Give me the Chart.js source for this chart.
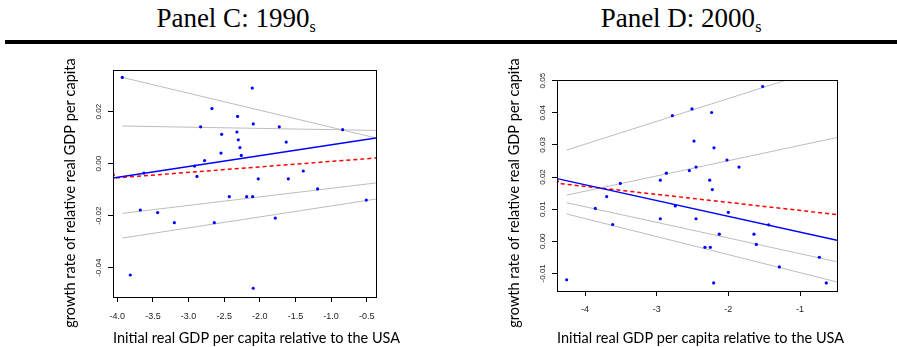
<!DOCTYPE html>
<html><head><meta charset="utf-8">
<script src="https://cdn.jsdelivr.net/npm/chart.js@4/dist/chart.umd.min.js"></script>
<style>
html,body{margin:0;padding:0;background:#fff;width:897px;height:347px;overflow:hidden;}
#wrap{position:relative;width:897px;height:347px;}
.ptitle{position:absolute;top:3px;font-family:"Liberation Serif","Times New Roman",serif;font-size:27px;line-height:30px;color:#000;white-space:nowrap;transform:translateX(-50%);}
.ptitle sub{font-size:16px;vertical-align:-5px;line-height:0;}
#rule{position:absolute;left:5px;top:40px;width:892px;height:4px;background:#000;}
canvas{position:absolute;top:0;}
</style></head>
<body><div id="wrap">
<div class="ptitle" style="left:236px">Panel C: 1990<sub>s</sub></div>
<div class="ptitle" style="left:681px">Panel D: 2000<sub>s</sub></div>
<div id="rule"></div>
<canvas id="cC" width="448" height="347" style="left:0"></canvas>
<canvas id="cD" width="449" height="347" style="left:448px"></canvas>
</div>
<script>
// ---------- shared text ----------
const xAxisTitle = 'Initial real GDP per capita relative to the USA';
const yAxisTitle = 'growth rate of relative real GDP per capita';

// ---------- Panel C: 1990s ----------
const c_pointX = [-3.93,-2.106,-2.672,-2.312,-2.092,-2.831,-1.727,-0.838,-2.321,-2.536,-2.302,-1.629,-2.279,-2.545,-2.26,-2.775,-2.915,-3.626,-2.882,-2.022,-1.6,-1.39,-1.189,-2.428,-2.185,-2.101,-3.677,-3.434,-3.2,-2.639,-1.783,-0.506,-3.818,-2.092];
const c_pointY = [0.0332,0.0291,0.0212,0.0182,0.0153,0.0142,0.0142,0.0131,0.0122,0.0113,0.0092,0.0083,0.0062,0.0041,0.0032,0.0012,-0.0009,-0.0036,-0.0049,-0.0058,-0.0058,-0.0028,-0.0097,-0.0127,-0.0127,-0.0127,-0.0178,-0.0188,-0.0227,-0.0227,-0.0209,-0.014,-0.0428,-0.0479];
const c_grayX = [-3.93, -0.37];
const c_gray1Y = [0.0332, 0.0099];
const c_gray2Y = [0.0145, 0.0128];
const c_gray3Y = [-0.0191, -0.0074];
const c_gray4Y = [-0.0286, -0.0136];
const c_blueX = [-4.06, -0.37];
const c_blueY = [-0.0055, 0.0099];
const c_redX = [-4.06, -4.03, -0.37];
const c_redY = [-0.0033, -0.0055, 0.0022];
const c_xTicks = [-4.0,-3.5,-3.0,-2.5,-2.0,-1.5,-1.0,-0.5];
const c_xTickLabels = ['-4.0','-3.5','-3.0','-2.5','-2.0','-1.5','-1.0','-0.5'];
const c_yTicks = [-0.04,-0.02,0.00,0.02];
const c_yTickLabels = ['-0.04','-0.02','0.00','0.02'];
const c_xRange = [-4.0603, -0.3695];
const c_yRange = [-0.05127, 0.03604];

// ---------- Panel D: 2000s ----------
const d_pointX = [-1.521,-2.507,-2.233,-2.781,-2.479,-2.2,-2.019,-1.851,-2.451,-2.544,-2.865,-2.949,-2.26,-3.507,-2.223,-3.698,-2.74,-3.856,-2.949,-2.451,-2.0,-3.614,-1.437,-2.126,-1.642,-2.326,-2.251,-1.609,-0.73,-1.288,-4.256,-2.205,-0.633];
const d_pointY = [0.0482,0.0412,0.0401,0.0391,0.0312,0.0291,0.0253,0.0231,0.0231,0.022,0.0212,0.019,0.019,0.018,0.0161,0.0139,0.011,0.0102,0.007,0.007,0.009,0.0052,0.0051,0.0022,0.0022,-0.0019,-0.0019,-0.001,-0.005,-0.008,-0.012,-0.013,-0.013];
const d_gray1X = [-4.256, -1.19];
const d_gray1Y = [0.0284, 0.0502];
const d_grayX = [-4.256, -0.484];
const d_gray2Y = [0.01435, 0.0323];
const d_gray3Y = [0.012, -0.0064];
const d_gray4Y = [0.0085, -0.0127];
const d_blueX = [-4.39, -0.484];
const d_blueY = [0.0195, 0.0003];
const d_redX = [-4.39, -4.364, -0.484];
const d_redY = [0.0195, 0.018, 0.0083];
const d_xTicks = [-4,-3,-2,-1];
const d_xTickLabels = ['-4','-3','-2','-1'];
const d_yTicks = [-0.01,0.00,0.01,0.02,0.03,0.04,0.05];
const d_yTickLabels = ['-0.01','0.00','0.01','0.02','0.03','0.04','0.05'];
const d_xRange = [-4.3907, -0.4838];
const d_yRange = [-0.01551, 0.05022];

// ---------- helpers ----------
const zip = (xs, ys) => xs.map((x, i) => ({x: x, y: ys[i]}));

const boxPlugin = {
  id: 'plotBox',
  afterDraw(chart) {
    const a = chart.chartArea, ctx = chart.ctx;
    ctx.save();
    ctx.strokeStyle = '#000';
    ctx.lineWidth = 1;
    ctx.strokeRect(Math.round(a.left) + 0.5, Math.round(a.top) + 0.5,
                   Math.round(a.right) - Math.round(a.left), Math.round(a.bottom) - Math.round(a.top));
    ctx.restore();
  }
};
// axis titles (drawn without Chart.js's maxWidth squeeze)
const axisTitlePlugin = {
  id: 'axisTitles',
  afterDraw(chart, args, o) {
    const ctx = chart.ctx, a = chart.chartArea;
    ctx.save();
    ctx.font = o.size + 'px ' + o.family;
    ctx.fillStyle = '#000';
    ctx.textBaseline = 'middle';
    // x title: left-aligned with the plot box
    ctx.textAlign = 'left';
    ctx.fillText(o.xText, a.left, o.xTitleY);
    // y title: rotated
    ctx.translate(o.yTitleX, o.yTitleY);
    ctx.rotate(-Math.PI / 2);
    ctx.textAlign = 'center';
    ctx.fillText(o.yText, 0, 0);
    ctx.restore();
  }
};

function lineDs(xs, ys, color, width, dash) {
  return {type: 'scatter', data: zip(xs, ys), showLine: true, pointRadius: 0,
          borderColor: color, borderWidth: width, borderDash: dash || [], fill: false};
}

function makeChart(id, p) {
  return new Chart(document.getElementById(id), {
    type: 'scatter',
    data: {
      datasets: [
        {data: zip(p.px, p.py), pointRadius: 1.6, pointBackgroundColor: '#0000ff',
         pointBorderWidth: 0, borderColor: '#0000ff'},
        lineDs(p.blueX, p.blueY, '#0000ff', 1.5),
        lineDs(p.redX, p.redY, '#ff0000', 1.5, [4, 3]),
        ...p.grays.map(g => lineDs(g[0], g[1], '#bdbdbd', 1))
      ]
    },
    options: {
      responsive: false, animation: false, devicePixelRatio: 1, events: [],
      layout: {padding: p.pad},
      plugins: {
        legend: {display: false}, tooltip: {enabled: false},
        axisTitles: {xText: xAxisTitle, yText: yAxisTitle, xTitleY: 338,
                     yTitleX: p.yTitlePos[0], yTitleY: p.yTitlePos[1], size: 14.5, family: 'Lato'}
      },
      scales: {
        x: {
          type: 'linear', min: p.xRange[0], max: p.xRange[1],
          afterBuildTicks: s => { s.ticks = p.xTicks.map(v => ({value: v})); },
          afterFit: s => { s.height = p.xAxisH; },
          ticks: {callback: (v, i) => p.xTickLabels[i], autoSkip: false, minRotation: 0, maxRotation: 0,
                  padding: p.xTickPad, color: '#222', font: {family: 'Liberation Sans', size: 9}},
          grid: {drawOnChartArea: false, tickLength: 5, color: '#000', tickColor: '#000'},
          border: {display: false}
        },
        y: {
          type: 'linear', min: p.yRange[0], max: p.yRange[1],
          afterBuildTicks: s => { s.ticks = p.yTicks.map(v => ({value: v})); },
          afterFit: s => { s.width = p.yAxisW; },
          ticks: {callback: (v, i) => p.yTickLabels[i], autoSkip: false, minRotation: 90,
                  crossAlign: 'center', padding: p.yTickPad, color: '#222',
                  font: {family: 'Liberation Sans', size: 8}},
          grid: {drawOnChartArea: false, tickLength: 5, color: '#000', tickColor: '#000'},
          border: {display: false}
        }
      }
    },
    plugins: [boxPlugin, axisTitlePlugin]
  });
}

makeChart('cC', {
  px: c_pointX, py: c_pointY,
  blueX: c_blueX, blueY: c_blueY, redX: c_redX, redY: c_redY,
  grays: [[c_grayX, c_gray1Y], [c_grayX, c_gray2Y], [c_grayX, c_gray3Y], [c_grayX, c_gray4Y]],
  xTicks: c_xTicks, xTickLabels: c_xTickLabels, yTicks: c_yTicks, yTickLabels: c_yTickLabels,
  xRange: c_xRange, yRange: c_yRange,
  pad: {left: 0, top: 70, right: 72, bottom: 0},
  yAxisW: 113, xAxisH: 50, xTickPad: 9, yTickPad: 0,
  yTitlePos: [70, 193]
});

makeChart('cD', {
  px: d_pointX, py: d_pointY,
  blueX: d_blueX, blueY: d_blueY, redX: d_redX, redY: d_redY,
  grays: [[d_gray1X, d_gray1Y], [d_grayX, d_gray2Y], [d_grayX, d_gray3Y], [d_grayX, d_gray4Y]],
  xTicks: d_xTicks, xTickLabels: d_xTickLabels, yTicks: d_yTicks, yTickLabels: d_yTickLabels,
  xRange: d_xRange, yRange: d_yRange,
  pad: {left: 0, top: 80, right: 449 - 389, bottom: 0},
  yAxisW: 109, xAxisH: 56, xTickPad: 8, yTickPad: 0,
  yTitlePos: [66, 193]
});
</script>
</body></html>
